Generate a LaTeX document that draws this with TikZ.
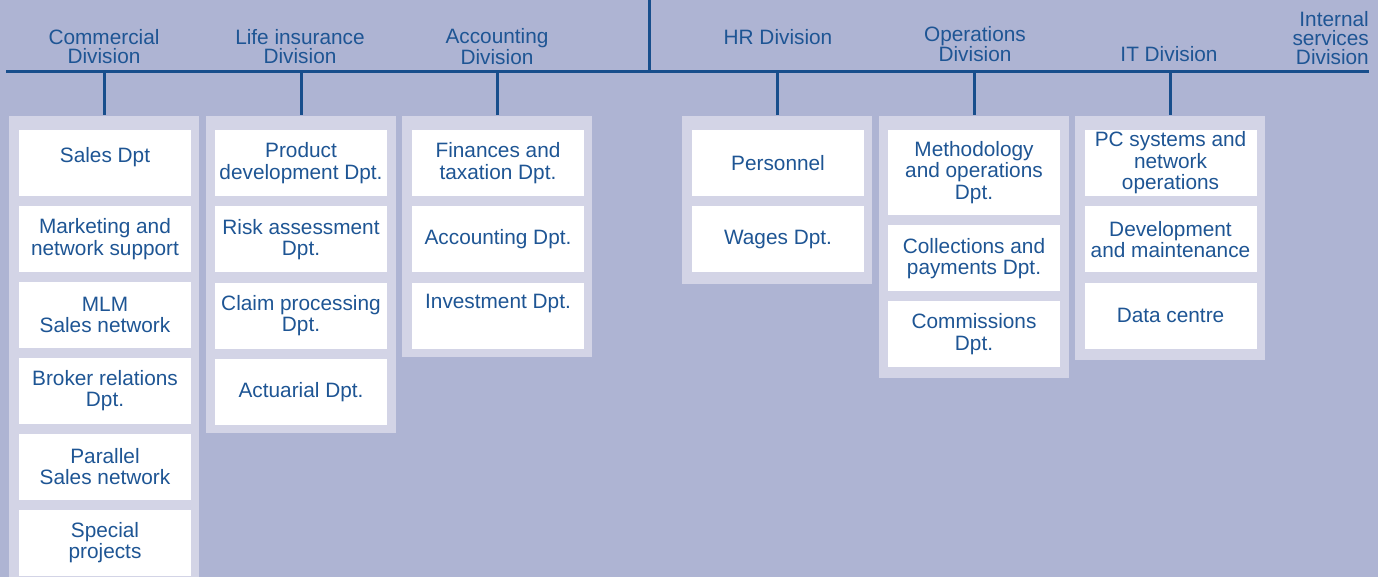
\documentclass[tikz,border=0pt]{standalone}
\usepackage{fontspec}
\setmainfont{Liberation Sans}
\usetikzlibrary{positioning}
\definecolor{chart-bg}{RGB}{174, 180, 211}
\definecolor{chart-panel}{RGB}{211, 212, 230}
\definecolor{chart-line}{RGB}{24, 78, 140}
\definecolor{chart-text}{RGB}{30, 85, 148}
\tikzset{
  panel/.style={fill=chart-panel, inner sep=0pt, minimum width=190pt, anchor=north west},
  dept/.style={fill=white, text=chart-text, align=center, inner sep=0pt,
    minimum width=172pt, minimum height=66pt,
    font=\fontsize{20.8}{21.5}\selectfont},
  division/.style={text=chart-text, align=center, inner sep=0pt,
    font=\fontsize{20.8}{19}\selectfont},
  bus/.style={draw=chart-line, line width=3pt}
}

\begin{document}
\begin{tikzpicture}[x=1pt, y=-1pt]
\fill[chart-bg] (0,0) rectangle (1378,577);
\useasboundingbox (0,0) rectangle (1378,577);

% panels behind the departments
\node[panel, minimum height=461.5pt] (com) at (9,115.5) {};
\node[panel, minimum height=317.5pt] (life) at (206,115.5) {};
\node[panel, minimum height=241.5pt] (acc) at (402,115.5) {};
\node[panel, minimum height=168.5pt] (hr) at (682,115.5) {};
\node[panel, minimum height=262.5pt] (ops) at (879,115.5) {};
\node[panel, minimum height=244.5pt] (it) at (1075,115.5) {};

% bus
\coordinate (top) at (649,0);
\coordinate (busL) at (6,72);
\coordinate (busR) at (1369,72);
\draw[bus] (busL) -- (busR);
\draw[bus] (top) -- (top |- busL);
\foreach \p in {com,life,acc,hr,ops,it}
  \draw[bus] (\p.north |- busL) -- (\p.north);

% divisions
\node[division] (comdiv) at (104,46.5) {Commercial\\Division};
\node[division] (lifediv) at (300,46.5) {Life insurance\\Division};
\node[division] (accdiv) at (497,46.5) {Accounting\\Division};
\node[division] (hrdiv) at (778,37) {HR Division};
\node[division] (opsdiv) at (975,44) {Operations\\Division};
\node[division] (itdiv) at (1169,54) {IT Division};
\node[division, align=right, anchor=east] (intdiv) at (1369,38) {Internal\\services\\Division};

% Commercial
\node[dept] (sales) at (105,163) {Sales Dpt\\[-12pt]\strut};
\node[dept, below=9.5pt of sales] (marketing) {Marketing and\\network support};
\node[dept, below=9.5pt of marketing] (mlm) {MLM\\Sales network};
\node[dept, below=9.5pt of mlm] (broker) {Broker relations\\Dpt.};
\node[dept, below=9.5pt of broker] (parallel) {Parallel\\Sales network};
\node[dept, below=9.5pt of parallel] (special) {Special\\projects};

% Life insurance
\node[dept] (product) at (301,163) {Product\\development Dpt.};
\node[dept, below=10pt of product] (risk) {Risk assessment\\Dpt.};
\node[dept, below=10pt of risk] (claim) {Claim processing\\Dpt.};
\node[dept, below=10pt of claim] (actuarial) {Actuarial Dpt.};

% Accounting
\node[dept] (finances) at (498,163) {Finances and\\taxation Dpt.};
\node[dept, below=10pt of finances] (accounting) {Accounting Dpt.};
\node[dept, below=10pt of accounting] (investment) {Investment Dpt.\\\strut};

% HR
\node[dept] (personnel) at (778,163) {Personnel};
\node[dept, below=10pt of personnel] (wages) {Wages Dpt.};

% Operations
\node[dept, minimum height=85pt] (method) at (974,172.5) {Methodology\\and operations\\Dpt.};
\node[dept, below=10pt of method] (collect) {Collections and\\payments Dpt.};
\node[dept, below=9.5pt of collect] (commiss) {Commissions\\Dpt.};

% IT
\node[dept] (pcsys) at (1170.5,163) {PC systems and\\network\\operations};
\node[dept, below=10pt of pcsys] (devel) {Development\\and maintenance};
\node[dept, below=10pt of devel] (datac) {Data centre};
\end{tikzpicture}
\end{document}
